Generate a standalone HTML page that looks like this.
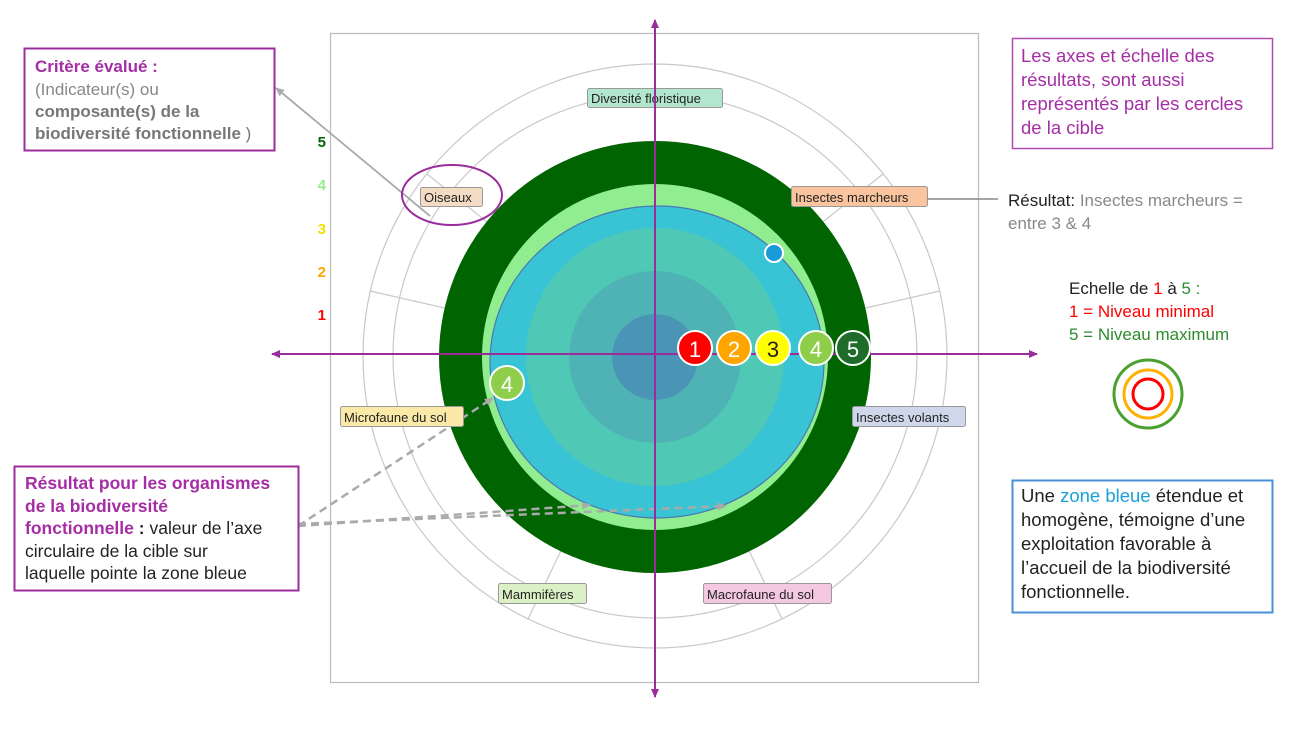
<!DOCTYPE html>
<html><head><meta charset="utf-8"><style>
html,body{margin:0;padding:0;background:#fff;width:1300px;height:731px;overflow:hidden}
svg{display:block}
text{font-family:"Liberation Sans",sans-serif}
</style></head><body>
<svg width="1300" height="731" viewBox="0 0 1300 731" xmlns="http://www.w3.org/2000/svg">
<defs>
<marker id="ap" markerWidth="10" markerHeight="10" refX="8" refY="5" orient="auto" markerUnits="userSpaceOnUse"><path d="M0,1 L9,5 L0,9 z" fill="#9b2c9b"/></marker>
<marker id="ag" markerWidth="10" markerHeight="10" refX="8" refY="5" orient="auto" markerUnits="userSpaceOnUse"><path d="M0,1 L9,5 L0,9 z" fill="#aaa"/></marker>
</defs>
<rect x="330.5" y="33.5" width="648" height="649" fill="#fff" stroke="#bbb" stroke-width="1.2"/>
<g font-size="15" font-weight="bold" text-anchor="end">
<text x="326" y="147" fill="#006400">5</text>
<text x="326" y="190" fill="#90ee90">4</text>
<text x="326" y="234" fill="#f0e000">3</text>
<text x="326" y="277" fill="#ffa500">2</text>
<text x="326" y="320" fill="#ff0000">1</text>
</g>
<g fill="none" stroke="#c8c8c8" stroke-width="1.2">
<circle cx="655" cy="356" r="292"/>
<circle cx="655" cy="356" r="262"/>
<line x1="655" y1="356" x2="655" y2="64"/>
<line x1="655" y1="356" x2="883" y2="174"/>
<line x1="655" y1="356" x2="940" y2="291"/>
<line x1="655" y1="356" x2="782" y2="619"/>
<line x1="655" y1="356" x2="528" y2="619"/>
<line x1="655" y1="356" x2="370" y2="291"/>
<line x1="655" y1="356" x2="427" y2="174"/>
</g>
<circle cx="655" cy="357" r="216" fill="#006400"/>
<circle cx="655" cy="357" r="173" fill="#90ee90"/>
<ellipse cx="657" cy="362" rx="167" ry="156" fill="#38c4d4" stroke="#4a78b0" stroke-width="1.2"/>
<circle cx="655" cy="357" r="129" fill="#4fc9b5"/>
<circle cx="655" cy="357" r="86" fill="#4fb3b5"/>
<circle cx="655" cy="357" r="43" fill="#4a95b5"/>
<g stroke="#aaa" stroke-width="2.5" stroke-dasharray="8,5" fill="none">
<line x1="298" y1="526" x2="493" y2="398" marker-end="url(#ag)"/>
<line x1="298" y1="526" x2="590" y2="505" marker-end="url(#ag)"/>
<line x1="298" y1="524" x2="726" y2="506" marker-end="url(#ag)"/>
</g>
<line x1="430" y1="216" x2="276" y2="88" stroke="#aaa" stroke-width="1.8" marker-end="url(#ag)"/>
<g font-size="13" fill="#222">
<rect x="587.5" y="88.5" width="135" height="19" rx="2" fill="#b3e6cf" stroke="#999"/><text x="591" y="103">Diversité floristique</text>
<rect x="420.5" y="187.5" width="62" height="19" rx="2" fill="#f3dcc3" stroke="#999"/><text x="424" y="202">Oiseaux</text>
<rect x="791.5" y="186.5" width="136" height="20" rx="2" fill="#f9c49e" stroke="#999"/><text x="795" y="202">Insectes marcheurs</text>
<rect x="340.5" y="406.5" width="123" height="20" rx="2" fill="#fbe9a8" stroke="#999"/><text x="344" y="422">Microfaune du sol</text>
<rect x="852.5" y="406.5" width="113" height="20" rx="2" fill="#cfd8ea" stroke="#999"/><text x="856" y="422">Insectes volants</text>
<rect x="498.5" y="583.5" width="88" height="20" rx="2" fill="#dcf0c6" stroke="#999"/><text x="502" y="599">Mammifères</text>
<rect x="703.5" y="583.5" width="128" height="20" rx="2" fill="#f4c8e2" stroke="#999"/><text x="707" y="599">Macrofaune du sol</text>
</g>
<ellipse cx="452" cy="195" rx="50" ry="30" fill="none" stroke="#9b2c9b" stroke-width="2"/>
<line x1="655" y1="690" x2="655" y2="20" stroke="#9b2c9b" stroke-width="2" marker-end="url(#ap)"/>
<line x1="655" y1="30" x2="655" y2="697" stroke="#9b2c9b" stroke-width="2" marker-end="url(#ap)"/>
<line x1="290" y1="354" x2="1037" y2="354" stroke="#9b2c9b" stroke-width="2" marker-end="url(#ap)"/>
<line x1="1030" y1="354" x2="272" y2="354" stroke="#9b2c9b" stroke-width="2" marker-end="url(#ap)"/>
<g stroke="#fff" stroke-width="2">
<circle cx="695" cy="348" r="17" fill="#ff0000"/>
<circle cx="734" cy="348" r="17" fill="#ffa500"/>
<circle cx="773" cy="348" r="17" fill="#ffff00"/>
<circle cx="816" cy="348" r="17" fill="#8fce4a"/>
<circle cx="853" cy="348" r="17" fill="#1e6b2a"/>
<circle cx="507" cy="383" r="17" fill="#8fce4a"/>
<circle cx="774" cy="253" r="9" fill="#1a9ad6"/>
</g>
<g font-size="22" text-anchor="middle">
<text x="695" y="357" fill="#fff">1</text>
<text x="734" y="357" fill="#fff">2</text>
<text x="773" y="357" fill="#222">3</text>
<text x="816" y="357" fill="#fff">4</text>
<text x="853" y="357" fill="#fff">5</text>
<text x="507" y="392" fill="#fff">4</text>
</g>
<rect x="24.5" y="48.5" width="250" height="102" fill="#fff" stroke="#9b2c9b" stroke-width="2"/>
<g font-size="17">
<text x="35" y="72" fill="#a52ea5" font-weight="bold">Critère évalué :</text>
<text x="35" y="95" fill="#888">(Indicateur(s) ou</text>
<text x="35" y="117" fill="#777" font-weight="bold">composante(s) de la</text>
<text x="35" y="139" fill="#777"><tspan font-weight="bold">biodiversité fonctionnelle</tspan> )</text>
</g>
<rect x="14.5" y="466.5" width="284" height="124" fill="#fff" stroke="#9b2c9b" stroke-width="2"/>
<g font-size="17.5">
<text x="25" y="489" fill="#a52ea5" font-weight="bold">Résultat pour les organismes</text>
<text x="25" y="512" fill="#a52ea5" font-weight="bold">de la biodiversité</text>
<text x="25" y="534" fill="#222"><tspan fill="#a52ea5" font-weight="bold">fonctionnelle</tspan><tspan font-weight="bold"> :</tspan> valeur de l’axe</text>
<text x="25" y="557" fill="#222">circulaire de la cible sur</text>
<text x="25" y="579" fill="#222">laquelle pointe la zone bleue</text>
</g>
<rect x="1012.5" y="38.5" width="260" height="110" fill="#fff" stroke="#b04cb0" stroke-width="1.5"/>
<g font-size="18.5" fill="#a52ea5">
<text x="1021" y="62">Les axes et échelle des</text>
<text x="1021" y="86">résultats, sont aussi</text>
<text x="1021" y="110">représentés par les cercles</text>
<text x="1021" y="134">de la cible</text>
</g>
<line x1="927" y1="199" x2="998" y2="199" stroke="#888" stroke-width="1.5"/>
<g font-size="17">
<text x="1008" y="206" fill="#222">Résultat:  <tspan fill="#888">Insectes marcheurs =</tspan></text>
<text x="1008" y="229" fill="#888">entre 3 &amp; 4</text>
</g>
<g font-size="17">
<text x="1069" y="294" fill="#222">Echelle de <tspan fill="#ff0000">1</tspan> à <tspan fill="#2e8b2e">5 :</tspan></text>
<text x="1069" y="317" fill="#ff0000">1 = Niveau minimal</text>
<text x="1069" y="340" fill="#2e8b2e">5 = Niveau maximum</text>
</g>
<g fill="none" stroke-width="3">
<circle cx="1148" cy="394" r="34" stroke="#4aa02c"/>
<circle cx="1148" cy="394" r="24" stroke="#ffb000"/>
<circle cx="1148" cy="394" r="15" stroke="#ff0000"/>
</g>
<rect x="1012.5" y="480.5" width="260" height="132" fill="#fff" stroke="#4a90d9" stroke-width="2"/>
<g font-size="18.5" fill="#222">
<text x="1021" y="502">Une <tspan fill="#1aa0d8">zone bleue</tspan> étendue et</text>
<text x="1021" y="526">homogène, témoigne d’une</text>
<text x="1021" y="550">exploitation favorable à</text>
<text x="1021" y="574">l’accueil de la biodiversité</text>
<text x="1021" y="598">fonctionnelle.</text>
</g>
</svg>
</body></html>
